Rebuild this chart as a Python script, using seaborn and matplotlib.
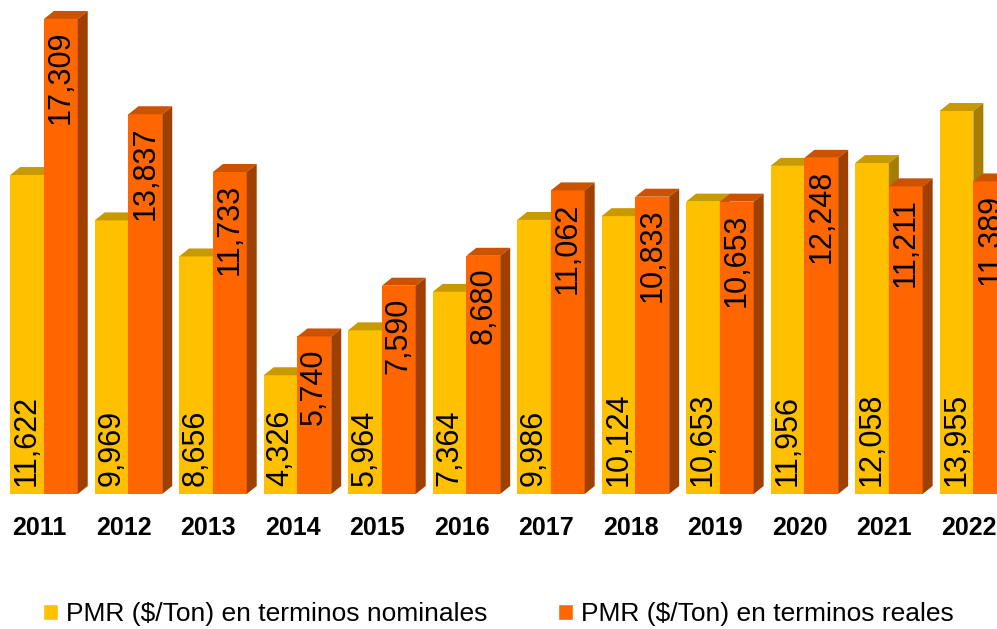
import pandas as pd
import seaborn as sns
import matplotlib.pyplot as plt
from matplotlib.patches import Polygon, Patch
from matplotlib.transforms import ScaledTranslation

# data
years = ['2011', '2012', '2013', '2014', '2015', '2016',
         '2017', '2018', '2019', '2020', '2021', '2022']
nominal = [11622, 9969, 8656, 4326, 5964, 7364, 9986, 10124, 10653, 11956, 12058, 13955]
real = [17309, 13837, 11733, 5740, 7590, 8680, 11062, 10833, 10653, 12248, 11211, 11389]
series = ['PMR ($/Ton) en terminos nominales', 'PMR ($/Ton) en terminos reales']

front = ['#FFC000', '#FF6600']
top_col = ['#C99A00', '#CC5200']
side_col = ['#A67D00', '#A04000']

sns.set_theme(style='white')
plt.rcParams['font.family'] = ['Liberation Sans', 'DejaVu Sans']
plt.rcParams['text.color'] = 'black'
plt.rcParams['xtick.color'] = 'black'

df = pd.DataFrame({
    'year': years * 2,
    'value': nominal + real,
    'serie': [series[0]] * len(years) + [series[1]] * len(years),
})

fig = plt.figure(figsize=(9.97, 6.29), dpi=100)
ax = fig.add_axes([0, 135 / 629, 1, 494 / 629])

sns.barplot(data=df, x='year', y='value', hue='serie', palette=front,
            width=0.8, ax=ax, legend=False, saturation=1)

ax.set_xlim(-0.52, 11.28)
ax.set_ylim(0, 18000)

# depth of the fake 3d effect (pixels -> data units)
bbox = ax.get_window_extent()
dx = 10 * (11.28 + 0.52) / bbox.width
dy = 8 * 18000 / bbox.height
gap = 12 * 18000 / bbox.height

for k, cont in enumerate(ax.containers):
    for rect in cont:
        x0 = rect.get_x()
        w = rect.get_width()
        h = rect.get_height()
        rect.set_zorder(2 + k)
        rect.set_edgecolor('none')
        top = Polygon([(x0, h), (x0 + w, h), (x0 + w + dx, h + dy), (x0 + dx, h + dy)],
                      closed=True, facecolor=top_col[k], edgecolor='none',
                      zorder=2.5 + k, clip_on=False)
        side = Polygon([(x0 + w, 0), (x0 + w + dx, dy), (x0 + w + dx, h + dy), (x0 + w, h)],
                       closed=True, facecolor=side_col[k], edgecolor='none',
                       zorder=2.5 + k, clip_on=False)
        ax.add_patch(top)
        ax.add_patch(side)
        xc = x0 + w / 2
        label = f'{h:,.0f}'
        if k == 0:
            ax.text(xc, 300, label, rotation=90, ha='center', va='bottom',
                    fontsize=22, color='black', zorder=6)
        else:
            ax.text(xc, h - gap, label, rotation=90, ha='center', va='top',
                    fontsize=22, color='black', zorder=6)

ax.set_xlabel('')
ax.set_ylabel('')
ax.set_yticks([])
ax.tick_params(axis='x', length=0, pad=16)
shift = ScaledTranslation(-0.045, 0, fig.dpi_scale_trans)
for t in ax.get_xticklabels():
    t.set_fontsize(18)
    t.set_fontweight('bold')
    t.set_color('black')
    t.set_transform(t.get_transform() + shift)
sns.despine(ax=ax, left=True, bottom=True)
ax.patch.set_alpha(0)

handles = [Patch(facecolor=front[0], label=series[0]),
           Patch(facecolor=front[1], label=series[1])]
fig.legend(handles=handles, loc='center', bbox_to_anchor=(0.5, 0.024), ncol=2,
           frameon=False, fontsize=19, handlelength=0.55, handleheight=0.55,
           handletextpad=0.3, columnspacing=2.7, labelcolor='black')

fig.savefig('out.png', dpi=100)
